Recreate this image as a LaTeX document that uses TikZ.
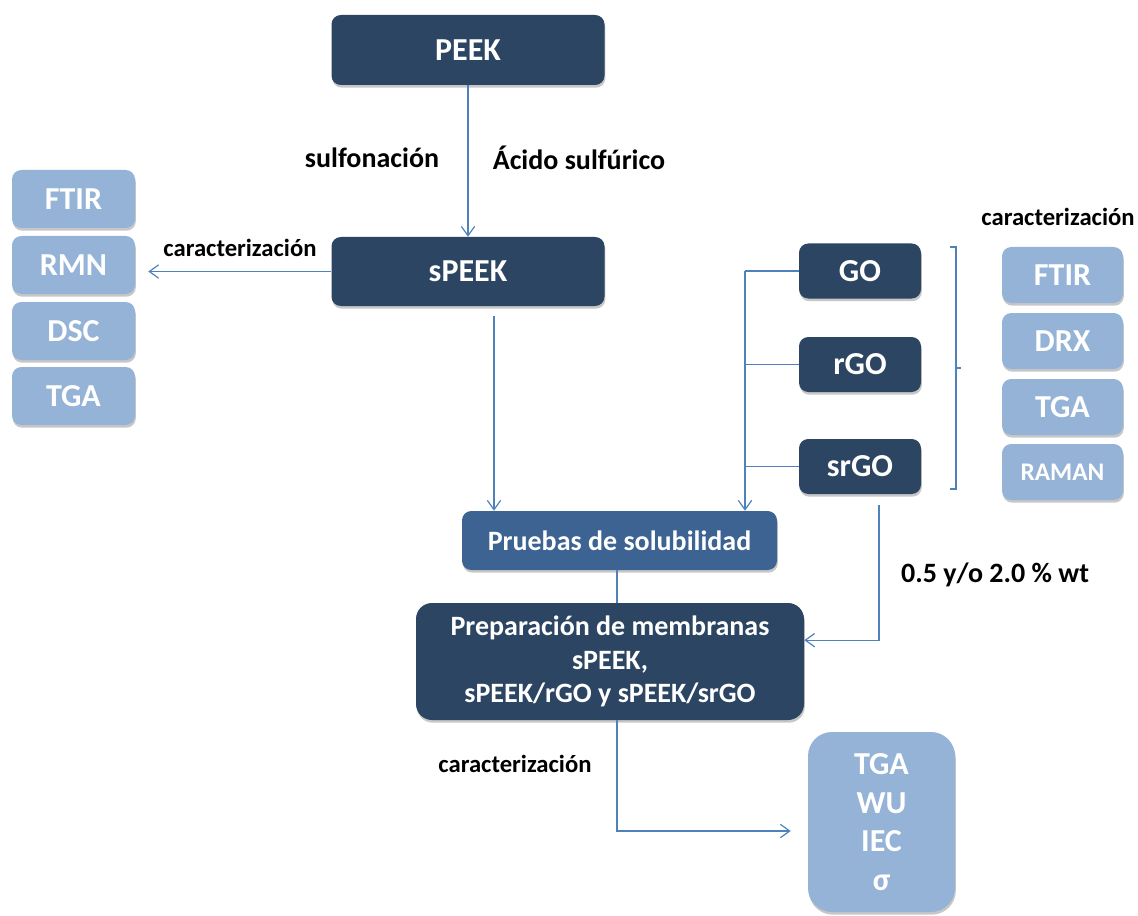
\documentclass[tikz,border=0pt]{standalone}
\usepackage{fontspec}
\setmainfont{Carlito}
\usepackage{tikz}
\usetikzlibrary{arrows.meta, positioning, shadows}

\definecolor{boxdark}{HTML}{2B4562}
\definecolor{boxmid}{HTML}{3D6392}
\definecolor{boxlight}{HTML}{95B3D7}
\definecolor{linkblue}{HTML}{4F81BD}

\begin{document}
\begin{tikzpicture}[x=0.75pt, y=-0.75pt, font=\bfseries,
    shade/.style={drop shadow={shadow xshift=0.6pt, shadow yshift=-2pt, opacity=0.22, fill=black}},
    darkbox/.style={shade, fill=boxdark, text=white, rounded corners=7pt, inner sep=2pt,
      font=\fontsize{24}{28}\selectfont\bfseries, align=center},
    midbox/.style={darkbox, fill=boxmid},
    lightbox/.style={darkbox, fill=boxlight},
    link/.style={draw=linkblue, line width=0.9pt},
    arr/.style={link, -{Straight Barb[length=7pt, width=10pt, line width=0.9pt]}},
    lbl/.style={font=\fontsize{18.5}{22}\selectfont\bfseries},
    bigl/.style={font=\fontsize{21}{25}\selectfont\bfseries}]
  \useasboundingbox (0,0) rectangle (1138,916);
  % main column
  \node[darkbox, minimum width=204.75pt, minimum height=52.5pt] (peek) at (468,50) {PEEK};
  \node[darkbox, minimum width=204.75pt, minimum height=51.75pt] (speek) at (468,271.5) {sPEEK};
  \node[midbox, bigl, minimum width=236.25pt, minimum height=44.25pt] (prueba) at (619.5,540.5)
    {Pruebas de solubilidad};
  \node[darkbox, bigl, minimum width=291pt, minimum height=87.75pt, rounded corners=12pt] (prep) at (610,661.5)
    {Preparación de membranas\\sPEEK,\\sPEEK/rGO y sPEEK/srGO};
  \node[lightbox, minimum width=110.25pt, minimum height=135pt, rounded corners=18pt,
    font=\fontsize{24}{29}\selectfont\bfseries] (props) at (881.5,822) {TGA\\WU\\IEC\\σ};
  % left characterisation
  \foreach \t/\y [count=\i] in {FTIR/199, RMN/265, DSC/331, TGA/396}
    \node[lightbox, minimum width=92.25pt, minimum height=43.5pt] (izq\i) at (73.5,\y) {\t};
  % graphene oxides
  \node[darkbox, minimum width=91.5pt, minimum height=41.25pt] (go) at (860,271) {GO};
  \node[darkbox, minimum width=91.5pt, minimum height=41.25pt] (rgo) at (860,364.5) {rGO};
  \node[darkbox, minimum width=91.5pt, minimum height=41.25pt] (srgo) at (860,466.5) {srGO};
  % right characterisation
  \foreach \t/\y [count=\i] in {FTIR/275, DRX/341, TGA/407}
    \node[lightbox, minimum width=90.75pt, minimum height=42pt] (der\i) at (1062.5,\y) {\t};
  \node[lightbox, minimum width=90.75pt, minimum height=42pt,
    font=\fontsize{19}{22}\selectfont\bfseries] (der4) at (1062.5,472) {RAMAN};
  % labels
  \node[bigl] (sulf) at (372,158) {sulfonación};
  \node[bigl] (acido) at (579,158) {Ácido sulfúrico};
  \node[lbl] (car1) at (240,248) {caracterización};
  \node[lbl] (car2) at (1058,217) {caracterización};
  \node[lbl] (car3) at (515,764) {caracterización};
  \node[bigl] (pct) at (995,575) {0.5 y/o 2.0 \% wt};
  % connectors
  \draw[arr] (peek) -- (speek);
  \draw[arr, shorten >=9.75pt] (speek.west) -- (speek.west -| izq2.east);
  \draw[arr, shorten <=7.5pt] ([xshift=19.5pt]speek.south) -- ([xshift=19.5pt]speek.south |- prueba.north);
  \coordinate (bus) at (745,271);
  \draw[arr] (bus) -- (bus |- prueba.north);
  \draw[link] (go.west) -- (go.west -| bus);
  \draw[link] (rgo.west) -- (rgo.west -| bus);
  \draw[link] (srgo.west) -- (srgo.west -| bus);
  \draw[link] (prueba.south -| prep.north) ++(5.25pt,0) -- ([xshift=5.25pt]prep.north);
  \draw[arr, shorten <=8.25pt] ([xshift=14.25pt]srgo.south) |- ([yshift=16pt]prep.east);
  \draw[arr, shorten >=12.75pt] ([xshift=5.25pt]prep.south) |- ([yshift=-6.75pt]props.west);
  % bracket
  \draw[link] (950,247) -- (956,247) -- (956,489) -- (950,489) (956,368) -- (961,368);
\end{tikzpicture}
\end{document}
